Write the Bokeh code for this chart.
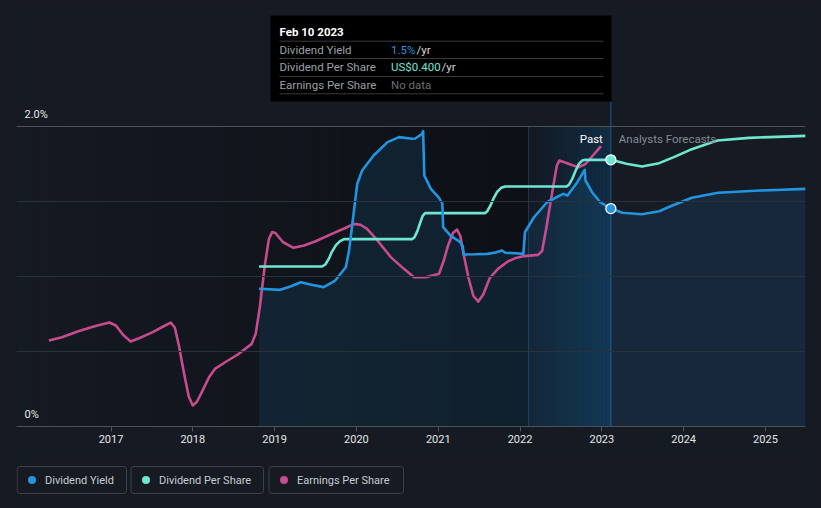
import numpy as np
from bokeh.plotting import figure
from bokeh.layouts import column
from bokeh.models import Range1d, FixedTicker, Span, BoxAnnotation
from bokeh.core.properties import value
from bokeh.embed import file_html
from bokeh.resources import INLINE

# ---------------- data ----------------
year_ticks = [2017, 2018, 2019, 2020, 2021, 2022, 2023, 2024, 2025]
grid_levels = [0.5, 1.0, 1.5, 2.0]
y_label_text = ["2.0%", "0%"]
y_label_vals = [2.0, 0.0]

# Dividend yield (%)
dy_years = [2018.81, 2019.07, 2019.20, 2019.32, 2019.45, 2019.60, 2019.74, 2019.87, 2019.91, 2019.97,
            2020.01, 2020.07, 2020.21, 2020.38, 2020.52, 2020.68, 2020.72, 2020.80, 2020.815, 2020.83,
            2020.91, 2021.01, 2021.05, 2021.06, 2021.15, 2021.27, 2021.30, 2021.31, 2021.45, 2021.60,
            2021.70, 2021.78, 2021.82, 2021.95, 2022.04, 2022.06, 2022.17, 2022.33, 2022.45, 2022.53,
            2022.58, 2022.70, 2022.79, 2022.80, 2022.88, 2022.98, 2023.11, 2023.25, 2023.49, 2023.70,
            2023.84, 2024.10, 2024.42, 2024.93, 2025.49]
dy_vals = [0.918, 0.911, 0.935, 0.962, 0.945, 0.929, 0.973, 1.062, 1.173, 1.44,
           1.618, 1.707, 1.807, 1.896, 1.929, 1.918, 1.920, 1.950, 1.969, 1.673,
           1.584, 1.524, 1.487, 1.329, 1.273, 1.229, 1.200, 1.147, 1.148, 1.151,
           1.160, 1.173, 1.158, 1.155, 1.151, 1.295, 1.395, 1.495, 1.530, 1.551,
           1.540, 1.629, 1.711, 1.640, 1.562, 1.495, 1.453, 1.425, 1.415, 1.435,
           1.468, 1.525, 1.558, 1.573, 1.584]

# Dividend per share (US$)
dps_years = [2018.81, 2019.58, 2019.62, 2019.66, 2019.70, 2019.75, 2019.80, 2019.85, 2020.68, 2020.71,
             2020.745, 2020.78, 2020.81, 2020.84, 2021.57, 2021.60, 2021.64, 2021.68, 2021.72, 2021.77,
             2021.82, 2022.57, 2022.60, 2022.64, 2022.68, 2022.72, 2022.76, 2022.80, 2023.11, 2023.30,
             2023.49, 2023.70, 2023.88, 2024.10, 2024.41, 2024.80, 2025.49]
dps_vals = [0.240, 0.240, 0.243, 0.251, 0.262, 0.272, 0.278, 0.281, 0.281, 0.284,
            0.293, 0.306, 0.316, 0.320, 0.320, 0.323, 0.332, 0.343, 0.352, 0.358,
            0.360, 0.360, 0.363, 0.372, 0.384, 0.394, 0.399, 0.400, 0.400, 0.394,
            0.390, 0.395, 0.404, 0.416, 0.429, 0.433, 0.436]

# Earnings per share (relative index, drawn on the chart's own scale)
eps_years = [2016.24, 2016.40, 2016.60, 2016.80, 2016.98, 2017.06, 2017.15, 2017.24, 2017.35, 2017.51,
             2017.65, 2017.73, 2017.78, 2017.83, 2017.89, 2017.95, 2018.00, 2018.05, 2018.11, 2018.20,
             2018.27, 2018.40, 2018.55, 2018.72, 2018.77, 2018.82, 2018.88, 2018.93, 2018.97, 2019.01,
             2019.10, 2019.23, 2019.36, 2019.50, 2019.72, 2019.85, 2019.97, 2020.05, 2020.13, 2020.25,
             2020.42, 2020.58, 2020.70, 2020.85, 2021.01, 2021.07, 2021.12, 2021.18, 2021.23, 2021.27,
             2021.31, 2021.37, 2021.43, 2021.49, 2021.55, 2021.63, 2021.73, 2021.85, 2021.95, 2022.05,
             2022.22, 2022.27, 2022.32, 2022.40, 2022.45, 2022.48, 2022.55, 2022.65, 2022.72, 2022.80,
             2022.88, 2022.99]
eps_vals = [0.573, 0.595, 0.635, 0.668, 0.693, 0.673, 0.610, 0.567, 0.590, 0.629,
            0.670, 0.693, 0.660, 0.540, 0.362, 0.200, 0.140, 0.165, 0.229, 0.330,
            0.384, 0.430, 0.480, 0.551, 0.620, 0.800, 1.073, 1.250, 1.296, 1.290,
            1.230, 1.191, 1.207, 1.235, 1.289, 1.320, 1.351, 1.345, 1.318, 1.245,
            1.129, 1.051, 0.996, 0.995, 1.018, 1.110, 1.207, 1.290, 1.313, 1.270,
            1.150, 0.990, 0.870, 0.833, 0.880, 0.990, 1.051, 1.100, 1.124, 1.136,
            1.144, 1.170, 1.320, 1.584, 1.740, 1.773, 1.760, 1.740, 1.729, 1.750,
            1.800, 1.869]

today = 2023.11          # Feb 10 2023
today_dy = 1.453
today_dps = 0.400
past_band_start = 2022.104

tooltip_title = "Feb 10 2023"
tooltip_labels = ["Dividend Yield", "Dividend Per Share", "Earnings Per Share"]
tooltip_values = ["1.5%", "US$0.400", "No data"]
series_names = ["Dividend Yield", "Dividend Per Share", "Earnings Per Share"]

# ---------------- styling / layout ----------------
BG = "#151a23"
BLUE = "#2394df"
TEAL = "#6fe6d2"
MAG = "#c84b8f"
FONT = value("Roboto")

PX_PER_YEAR = 81.81
X_LEFT = 2017 - (110.5 - 16) / PX_PER_YEAR
X_RIGHT = X_LEFT + 789 / PX_PER_YEAR
PX_PER_PCT = 150.0
Y_TOP = 418 / PX_PER_PCT
DPS_PER_PCT = 0.225  # dps units per chart % unit


def px_x(px):
    return X_LEFT + (px - 16) / PX_PER_YEAR


def px_y(py):
    return (426 - py) / PX_PER_PCT


p = figure(width=821, height=450, output_backend="svg", toolbar_location=None,
           x_range=Range1d(X_LEFT, X_RIGHT), y_range=Range1d(0, Y_TOP),
           y_axis_type=None, background_fill_color=BG, border_fill_color=BG,
           min_border_left=16, min_border_right=16, min_border_top=8, min_border_bottom=24)
p.outline_line_color = None
p.xgrid.visible = False
p.extra_y_ranges = {"dps": Range1d(0, Y_TOP * DPS_PER_PCT)}

# darker "past" band (horizontal gradient)
n = 60
edges = np.linspace(X_LEFT, past_band_start, n + 1)
p.quad(left=edges[:-1], right=edges[1:], bottom=0, top=2.0,
       fill_color="black", fill_alpha=list(np.linspace(0.0, 0.36, n)), line_color=None)

# highlight band for last year (gradient)
edges2 = np.linspace(past_band_start, today, n + 1)
p.quad(left=edges2[:-1], right=edges2[1:], bottom=0, top=2.0,
       fill_color="#0e3d63", fill_alpha=list(np.linspace(0.0, 0.55, n)), line_color=None)

# grid lines
for g in grid_levels:
    p.add_layout(Span(location=g, dimension="width",
                      line_color="#4d525b" if g == 2.0 else "#2b313a", line_width=1))

# faint line at band start and crosshair
p.segment(x0=[past_band_start], y0=[0], x1=[past_band_start], y1=[2.0], line_color="#1b3954", line_width=1)
p.segment(x0=[today], y0=[0], x1=[today], y1=[px_y(101)], line_color="#1e5a8a", line_width=1)

# area under dividend yield
p.varea(x=dy_years, y1=0, y2=dy_vals, fill_color=BLUE, fill_alpha=0.12)

# lines
p.line(eps_years, eps_vals, line_color=MAG, line_width=2.6, line_join="round")
p.line(dps_years, dps_vals, line_color=TEAL, line_width=2.6, y_range_name="dps", line_join="round")
p.line(dy_years, dy_vals, line_color=BLUE, line_width=2.6, line_join="round")

# today markers
p.scatter([today], [today_dps], y_range_name="dps", marker="circle", size=10,
          fill_color=TEAL, line_color="white", line_width=1.3)
p.scatter([today], [today_dy], marker="circle", size=10,
          fill_color=BLUE, line_color="white", line_width=1.3)

# y labels
p.text(x=[px_x(24)] * 2, y=[v + 12 / PX_PER_PCT for v in y_label_vals], text=y_label_text,
       text_font=FONT, text_font_size="11px", text_color="#e6e6e6", text_baseline="middle")

# Past / Analysts Forecasts
p.text(x=[today], y=[px_y(138)], text=["Past"], x_offset=-8, text_align="right",
       text_font=FONT, text_font_size="11.5px", text_color="#ffffff", text_baseline="middle")
p.text(x=[today], y=[px_y(138)], text=["Analysts Forecasts"], x_offset=8, text_align="left",
       text_font=FONT, text_font_size="11.5px", text_color="#868b93", text_baseline="middle")

# tooltip box
p.quad(left=[px_x(270)], right=[px_x(611)], bottom=[px_y(101)], top=[px_y(15)],
       fill_color="#000000", line_color=None)
sep_y = [px_y(40.7), px_y(58), px_y(76), px_y(93.3)]
p.segment(x0=[px_x(279)] * 4, y0=sep_y, x1=[px_x(603)] * 4, y1=sep_y, line_color="#3a3a3a", line_width=1)
p.text(x=[px_x(279)], y=[px_y(31)], text=[tooltip_title], text_font=FONT, text_font_size="11.5px",
       text_color="#ffffff", text_baseline="middle", text_font_style="bold")
row_y = [px_y(49), px_y(66.5), px_y(84)]
p.text(x=[px_x(279)] * 3, y=row_y, text=tooltip_labels, text_font=FONT, text_font_size="11.5px",
       text_color="#9ca0a6", text_baseline="middle")
p.text(x=[px_x(390.5)] * 3, y=row_y, text=tooltip_values, text_font=FONT, text_font_size="11.5px",
       text_color=[BLUE, TEAL, "#6b6e73"], text_baseline="middle")
p.text(x=[px_x(416), px_x(441)], y=row_y[:2], text=["/yr", "/yr"], text_font=FONT,
       text_font_size="11.5px", text_color="#d6d6d6", text_baseline="middle")

# x axis
xa = p.xaxis[0]
xa.ticker = FixedTicker(ticks=year_ticks)
xa.axis_line_color = "#4b5059"
xa.major_tick_line_color = "#4b5059"
xa.major_tick_in = 0
xa.major_tick_out = 5
xa.minor_tick_line_color = None
xa.major_label_standoff = 3
xa.major_label_text_font = "Roboto"
xa.major_label_text_font_size = "11px"
xa.major_label_text_color = "#e6e6e6"

# ---------------- legend strip (coordinates = page pixels) ----------------
LEG_H = 58
lg = figure(width=821, height=LEG_H, output_backend="svg", toolbar_location=None,
            x_range=Range1d(16, 805), y_range=Range1d(LEG_H, 0),
            x_axis_type=None, y_axis_type=None, background_fill_color=BG, border_fill_color=BG,
            min_border_left=16, min_border_right=16, min_border_top=0, min_border_bottom=0)
lg.outline_line_color = None
lg.xgrid.visible = False
lg.ygrid.visible = False

box_left = [16, 130, 268]
box_right = [126, 263, 403]
box_top, box_bottom = 16, 43
colors = [BLUE, TEAL, MAG]
for l, r in zip(box_left, box_right):
    lg.add_layout(BoxAnnotation(left=l + 0.5, right=r, top=box_top, bottom=box_bottom,
                                fill_alpha=0.0, line_color="#3b4049", line_alpha=1.0,
                                line_width=1, border_radius=3, level="underlay"))
cy = (box_top + box_bottom) / 2
lg.scatter(x=[l + 15.5 for l in box_left], y=[cy] * 3, marker="circle", size=8,
           fill_color=colors, line_color=None)
lg.text(x=[l + 28.5 for l in box_left], y=[cy] * 3, text=series_names, text_font=FONT,
        text_font_size="11px", text_color="#c9ccd1", text_baseline="middle")

layout = column(p, lg, spacing=0)
html = file_html(layout, INLINE)
html = html.replace("<head>", "<head><style>body{background:%s;}</style>" % BG, 1)
open("out.html", "w").write(html)
